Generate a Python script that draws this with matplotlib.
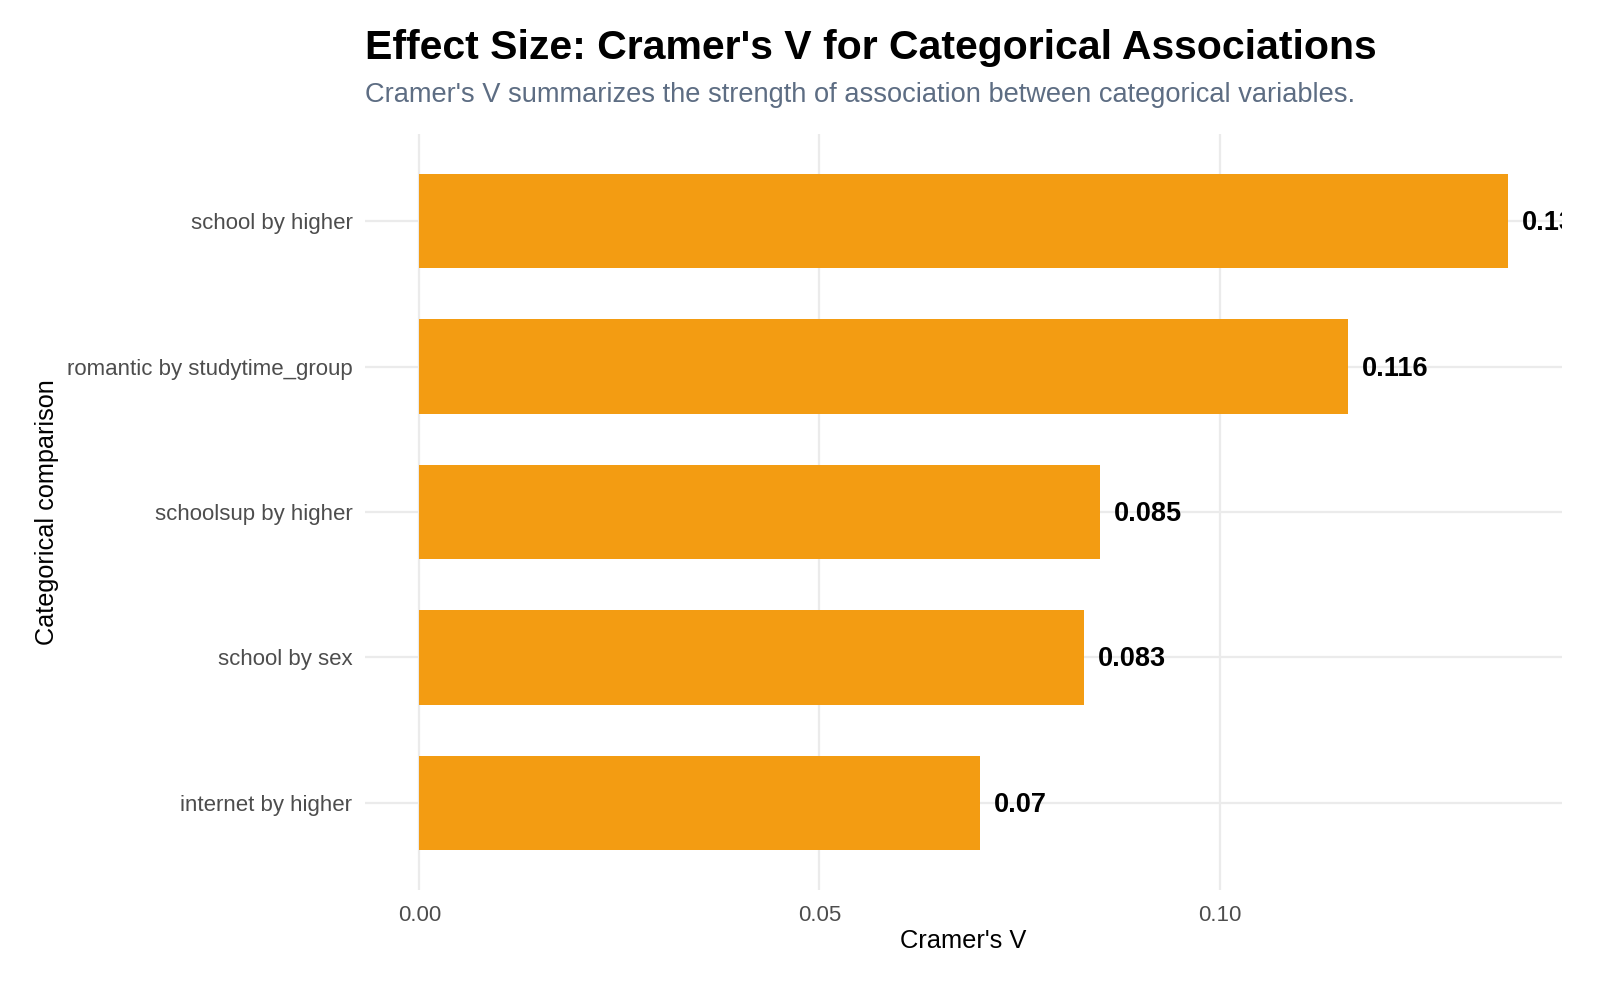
import matplotlib
matplotlib.use("Agg")
import matplotlib.pyplot as plt

categories = ["internet by higher", "school by sex", "schoolsup by higher",
              "romantic by studytime_group", "school by higher"]
values = [0.070, 0.083, 0.085, 0.116, 0.136]
value_labels = ["0.07", "0.083", "0.085", "0.116", "0.136"]
x_ticks = [0.00, 0.05, 0.10]
x_tick_labels = ["0.00", "0.05", "0.10"]

plt.rcParams['font.family'] = ['Liberation Sans', 'DejaVu Sans']

W, H = 1600, 984
fig = plt.figure(figsize=(W / 100, H / 100), dpi=100)
left, right, top, bottom = 365, 1562, 134, 890
ax = fig.add_axes([left / W, 1 - bottom / H, (right - left) / W, (bottom - top) / H])

ypos = list(range(1, len(categories) + 1))
ax.barh(ypos, values, height=0.65, color="#F39C12", zorder=2)

xmax = max(values)
ax.set_xlim(-0.05 * xmax, xmax * 1.05)
ax.set_ylim(0.4, len(categories) + 0.6)

for y, v, lab in zip(ypos, values, value_labels):
    t = ax.annotate(lab, (v, y), xytext=(10, -1.5), textcoords="offset points",
                    ha="left", va="center", fontsize=19.5, fontweight="bold",
                    color="black", zorder=3)
    t.set_clip_path(ax.patch)
    t.set_clip_on(True)

ax.set_xticks(x_ticks)
ax.set_xticklabels(x_tick_labels)
ax.set_yticks(ypos)
ax.set_yticklabels(categories)
ax.tick_params(axis="both", length=0, labelsize=16, labelcolor="#4D4D4D")
ax.tick_params(axis="x", pad=10.5)
ax.tick_params(axis="y", pad=9)

ax.grid(True, color="#EBEBEB", linewidth=1.6, zorder=0)
ax.set_axisbelow(True)
for s in ax.spines.values():
    s.set_visible(False)

ax.set_xlabel("Cramer's V", fontsize=18.4, color="black")
ax.set_ylabel("Categorical comparison", fontsize=18.2, color="black")
ax.xaxis.set_label_coords((left + right) / 2 / W, 1 - 929 / H, transform=fig.transFigure)
ax.yaxis.set_label_coords(59 / W, 1 - 512 / H, transform=fig.transFigure)

fig.text(left / W, 1 - 48 / H, "Effect Size: Cramer's V for Categorical Associations",
         fontsize=29.5, fontweight="bold", ha="left", va="center", color="black")
fig.text(left / W, 1 - 95 / H,
         "Cramer's V summarizes the strength of association between categorical variables.",
         fontsize=19.6, ha="left", va="center", color="#5D6D83")

fig.savefig("out.png", dpi=100, facecolor="white")
